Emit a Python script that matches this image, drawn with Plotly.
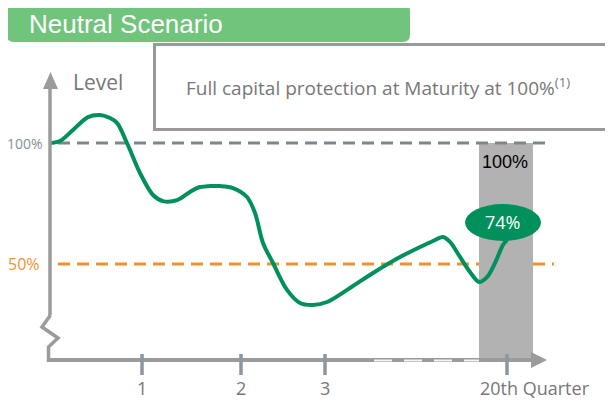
import plotly.graph_objects as go

# ---------------- data ----------------
path_t = [51, 60, 73, 88, 100, 110, 117, 127, 140, 153, 163, 177, 190, 200, 210, 220, 233, 247,
          255, 263, 273, 287, 300, 313, 327, 350, 373, 400, 420, 433, 443, 450, 460, 470, 479,
          487, 495, 503, 507]
path_level = [100.0, 100.8, 105.4, 110.7, 111.6, 110.3, 108.3, 100.0, 87.6, 78.5, 76.0, 76.4,
              79.8, 81.8, 82.2, 82.2, 81.4, 77.7, 71.1, 58.7, 50.4, 39.3, 33.9, 33.1, 34.3,
              40.1, 46.3, 52.9, 57.0, 59.5, 61.2, 59.1, 52.9, 46.7, 42.6, 44.6, 50.4, 57.9, 59.9]

barrier_levels = [100, 50]
barrier_labels = ["100%", "50%"]
final_value_label = "74%"
maturity_value = 100
maturity_label = "100%"

tick_t = [142, 241, 325, 507]
tick_text = ["1", "2", "3", "20th Quarter"]

title_text = "Neutral Scenario"
box_text = "Full capital protection at Maturity at 100%<sup>(1)</sup>"
yaxis_title = "Level"

# ---------------- geometry helpers ----------------
PAGE_W, PAGE_H = 613, 405
OFF = 8  # default page margin of the html body
Y100_PX = 143
PX_PER_PCT = 2.42


def lvl(py):
    return 100 - (py - Y100_PX) / PX_PER_PCT


X_MIN, X_MAX = OFF, PAGE_W
Y_MIN, Y_MAX = lvl(PAGE_H), lvl(OFF)
AXIS_LEVEL = lvl(360)

GREEN = "#00905b"
GREY_AX = "#9b9b9b"
GREY_TXT = "#777777"
ORANGE = "#f0922e"
FONT = "Open Sans, Lato, sans-serif"

fig = go.Figure()

# maturity bar
bar_base = lvl(362)
fig.add_trace(go.Bar(x=[506], y=[maturity_value - bar_base], base=[bar_base], width=[54],
                     marker=dict(color="#b2b2b2", line=dict(width=0)), hoverinfo="skip",
                     showlegend=False))

# grey 100% barrier dashed line
fig.add_trace(go.Scatter(x=[58, 545], y=[barrier_levels[0]] * 2, mode="lines",
                         line=dict(color="#7d868b", width=3, dash="12px,7px"),
                         hoverinfo="skip", showlegend=False))

# underlying path
fig.add_trace(go.Scatter(x=path_t, y=path_level, mode="lines",
                         line=dict(color=GREEN, width=4, shape="spline", smoothing=0.9),
                         hoverinfo="skip", showlegend=False))

shapes = []
# orange 50% barrier (below bar)
shapes.append(dict(type="line", layer="below", x0=58, x1=554, y0=barrier_levels[1],
                   y1=barrier_levels[1], line=dict(color=ORANGE, width=3, dash="12px,7px")))


def rounded(x0, y0, x1, y1, r):
    ya, yb = lvl(y0), lvl(y1)
    ry = r / PX_PER_PCT
    return (f"M {x0+r},{ya} L {x1-r},{ya} Q {x1},{ya} {x1},{ya-ry} "
            f"L {x1},{yb+ry} Q {x1},{yb} {x1-r},{yb} L {x0+r},{yb} Q {x0},{yb} {x0},{yb+ry} "
            f"L {x0},{ya-ry} Q {x0},{ya} {x0+r},{ya} Z")


# title banner (rounded)
shapes.append(dict(type="path", path=rounded(7, 4, 410, 42, 7), fillcolor="#70c47b",
                   line=dict(width=0), layer="above"))
# info box
shapes.append(dict(type="rect", x0=154.5, x1=611.5, y0=lvl(44.5), y1=lvl(129.5),
                   fillcolor="white", line=dict(color="#999999", width=3), layer="above"))

# y axis with break
shapes.append(dict(type="line", x0=50, x1=50, y0=lvl(86), y1=lvl(315),
                   line=dict(color=GREY_AX, width=3.5)))
zig_x = [50.5, 42, 58, 48.5, 48.5]
zig_y = [315, 327, 338, 347, 351]
shapes.append(dict(type="path",
                   path="M " + " L ".join(f"{x},{lvl(y)}" for x, y in zip(zig_x, zig_y)),
                   line=dict(color=GREY_AX, width=3.5)))
shapes.append(dict(type="line", x0=48.5, x1=48.5, y0=lvl(351), y1=lvl(362),
                   line=dict(color=GREY_AX, width=3.5)))
shapes.append(dict(type="path",
                   path=f"M 43,{lvl(89)} L 50.5,{lvl(72)} L 58,{lvl(89)} Z",
                   fillcolor=GREY_AX, line=dict(width=0)))
# x axis
shapes.append(dict(type="line", x0=47, x1=533, y0=AXIS_LEVEL, y1=AXIS_LEVEL,
                   line=dict(color=GREY_AX, width=4)))
shapes.append(dict(type="line", x0=374, x1=479, y0=lvl(360.5), y1=lvl(360.5),
                   line=dict(color="#f4f4f4", width=2, dash="18px,12px")))
shapes.append(dict(type="path",
                   path=f"M 531,{lvl(352)} L 547,{lvl(360)} L 531,{lvl(368)} Z",
                   fillcolor=GREY_AX, line=dict(width=0)))
for t in tick_t:
    shapes.append(dict(type="line", x0=t, x1=t, y0=lvl(354), y1=lvl(375),
                       line=dict(color="#8a979d", width=3.5)))

# final value ellipse
shapes.append(dict(type="circle", x0=465, x1=541, y0=lvl(241), y1=lvl(204),
                   fillcolor=GREEN, line=dict(width=0), layer="above"))

annotations = []
annotations.append(dict(x=27, y=lvl(24), text=title_text, showarrow=False, xanchor="left",
                        yanchor="middle", font=dict(family="Liberation Sans, Arial", size=26,
                                                    color="white")))
annotations.append(dict(x=378, y=lvl(87), text=box_text, showarrow=False, xanchor="center",
                        yanchor="middle", font=dict(family=FONT, size=19, color=GREY_TXT)))
annotations.append(dict(x=71, y=lvl(82), text=yaxis_title, showarrow=False, xanchor="left",
                        yanchor="middle", font=dict(family=FONT, size=21, color=GREY_TXT)))
annotations.append(dict(x=45, y=barrier_levels[0], text=barrier_labels[0], showarrow=False,
                        xanchor="right", yanchor="middle",
                        font=dict(family=FONT, size=14, color="#8a9094")))
annotations.append(dict(x=42, y=barrier_levels[1], text=barrier_labels[1], showarrow=False,
                        xanchor="right", yanchor="middle",
                        font=dict(family=FONT, size=16, color=ORANGE)))
annotations.append(dict(x=505, y=lvl(162), text=maturity_label, showarrow=False,
                        xanchor="center", yanchor="middle",
                        font=dict(family="Liberation Sans, Arial", size=18, color="black")))
annotations.append(dict(x=502, y=lvl(222), text=final_value_label, showarrow=False,
                        xanchor="center", yanchor="middle",
                        font=dict(family=FONT, size=18, color="white")))
label_shift = [0, 0, 0, 28]
for t, s, sh in zip(tick_t, tick_text, label_shift):
    annotations.append(dict(x=t + sh, y=lvl(388), text=s, showarrow=False, xanchor="center",
                            yanchor="middle", font=dict(family=FONT, size=18, color=GREY_TXT)))

fig.update_layout(
    width=PAGE_W - OFF, height=PAGE_H - OFF, margin=dict(l=0, r=0, t=0, b=0),
    paper_bgcolor="white", plot_bgcolor="white",
    xaxis=dict(range=[X_MIN, X_MAX], visible=False, fixedrange=True),
    yaxis=dict(range=[Y_MIN, Y_MAX], visible=False, fixedrange=True),
    shapes=shapes, annotations=annotations, showlegend=False, bargap=0,
)

fig.write_html("out.html")
